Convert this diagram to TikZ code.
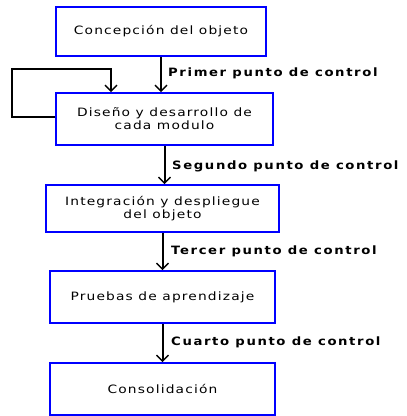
\documentclass[tikz,border=0pt]{standalone}
\usepackage{fontspec}
\setmainfont[FakeStretch=1.2,LetterSpace=10]{DejaVu Sans}
\newfontfamily\lblfont[FakeStretch=1.15,LetterSpace=14]{DejaVu Sans Bold}
\usetikzlibrary{arrows.meta}
\begin{document}
\begin{tikzpicture}[x=1pt,y=-1pt,
  box/.style={draw=blue,line width=2pt,fill=white,align=center,inner sep=0pt,font=\fontsize{11.5}{13}\selectfont},
  arr/.style={line width=2pt,-{Straight Barb[length=6pt,width=12pt,line width=1.4pt]}},
  lbl/.style={anchor=west,font=\fontsize{11.5}{13}\lblfont,inner sep=0pt}]
\useasboundingbox (0,0) rectangle (407,416);
\node[box,minimum width=210pt,minimum height=49pt] (b1) at (161,31.5) {Concepción del objeto};
\node[box,minimum width=217pt,minimum height=52pt] (b2) at (164.5,119) {Diseño y desarrollo de\\cada modulo};
\node[box,minimum width=233pt,minimum height=47pt] (b3) at (162.5,208.5) {Integración y despliegue\\del objeto};
\node[box,minimum width=225pt,minimum height=52pt] (b4) at (162.5,297) {Pruebas de aprendizaje};
\node[box,minimum width=225pt,minimum height=52pt] (b5) at (162.5,389) {Consolidación};
\draw[arr] (b1.south) -- (b1.south |- b2.north);
\draw[arr] (b2.south) -- (b2.south |- b3.north);
\draw[arr] (b3.south) -- (b3.south |- b4.north);
\draw[arr] (b4.south) -- (b4.south |- b5.north);
\coordinate (lp) at (12,69);
\draw[arr] ([yshift=2pt]b2.west) -| (lp) -- (111,69) -- (b2.north -| 111,0);
\node[lbl] (l1) at (168,73) {Primer punto de control};
\node[lbl] (l2) at (172,166) {Segundo punto de control};
\node[lbl] (l3) at (171,251) {Tercer punto de control};
\node[lbl] (l4) at (171,342) {Cuarto punto de control};
\end{tikzpicture}
\end{document}
